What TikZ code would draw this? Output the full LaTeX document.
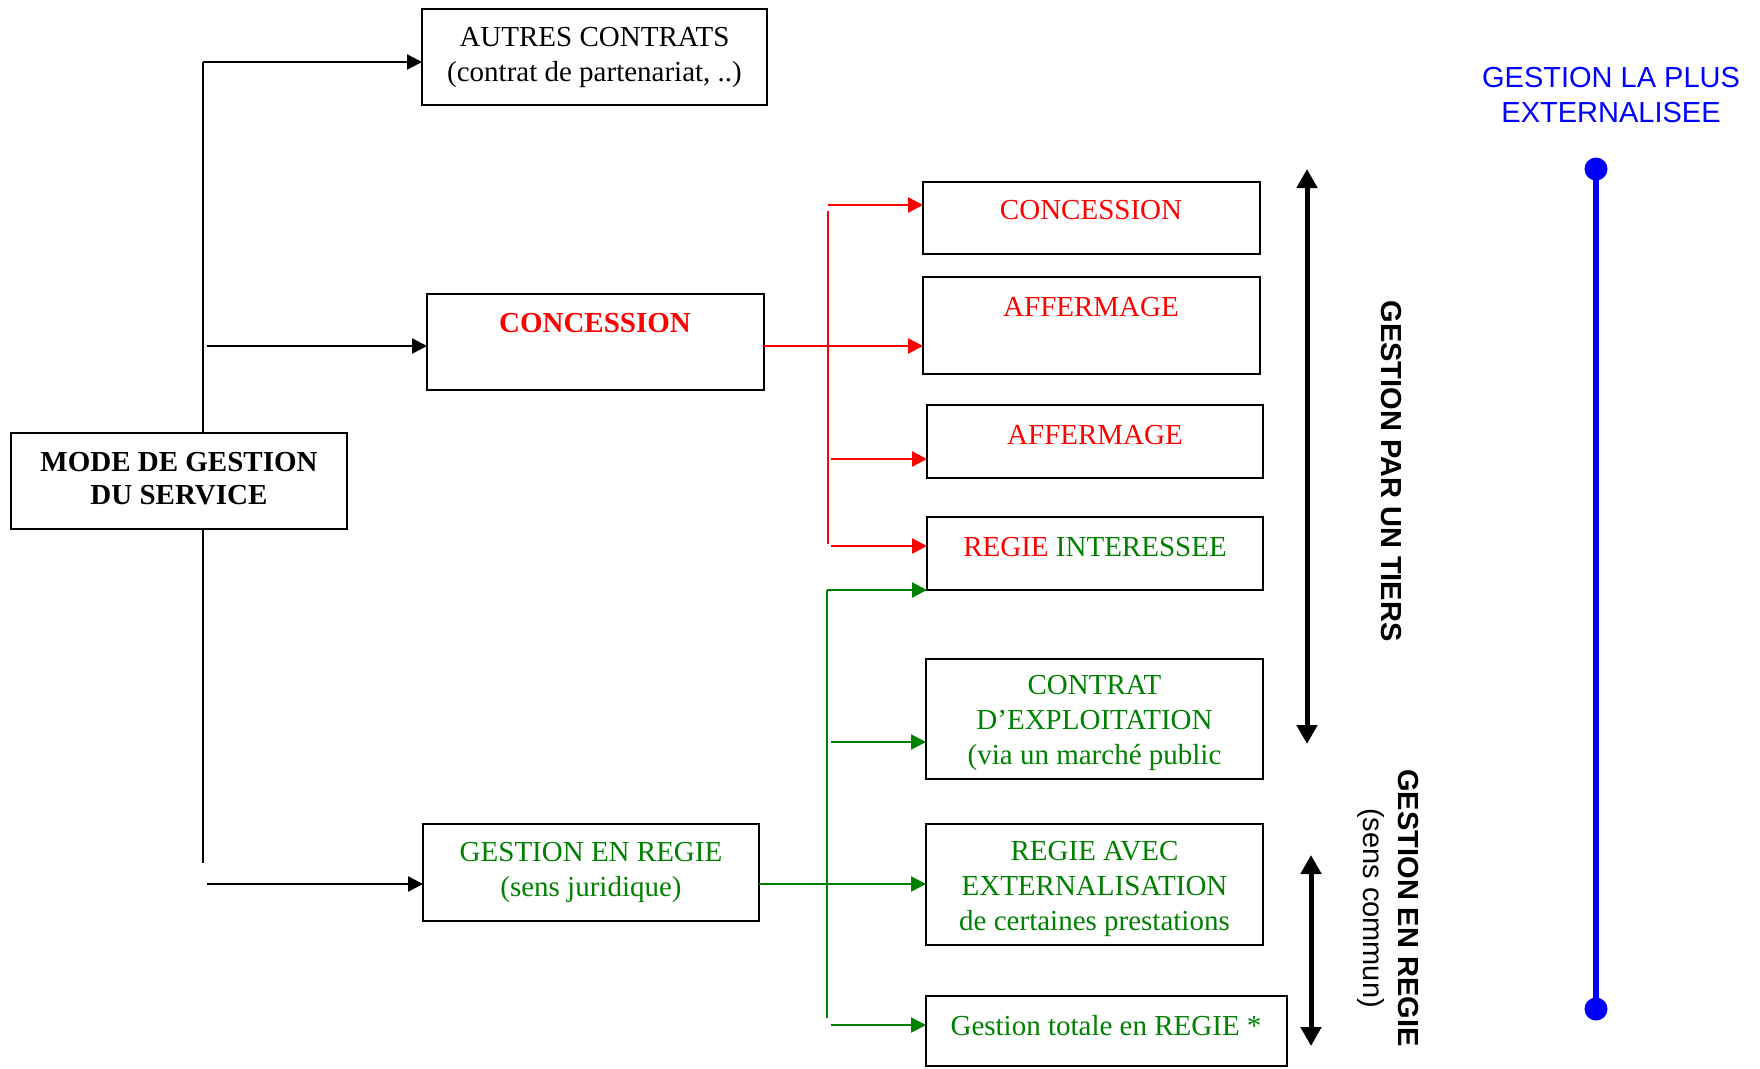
\documentclass[tikz,border=0pt]{standalone}
\usepackage{fontspec}
\setmainfont{Liberation Serif}
\setsansfont{Liberation Sans}
\usetikzlibrary{arrows.meta}
\definecolor{rd}{RGB}{255,0,0}
\definecolor{gn}{RGB}{0,128,0}
\definecolor{bl}{RGB}{0,0,255}
\newcommand{\fs}{\fontsize{29}{35}\selectfont}
\begin{document}
\begin{tikzpicture}[x=1pt,y=-1pt,
  every node/.style={font=\fs},
  box/.style={draw,line width=2pt,inner sep=0pt,outer sep=0pt,anchor=north west},
  txt/.style={anchor=base,inner sep=0pt},
  mtxt/.style={align=center,inner sep=0pt},
  tip/.style={-{Triangle[length=15pt,width=15pt]}},
  blkarr/.style={tip,line width=2.5pt,black},
  trunk/.style={line width=1.5pt,black},
  rarr/.style={tip,line width=2.5pt,rd},
  rline/.style={line width=1.5pt,rd},
  garr/.style={tip,line width=2.2pt,gn},
  gline/.style={line width=1.5pt,gn},
  dbl/.style={{Triangle[length=19pt,width=20pt]}-{Triangle[length=19pt,width=20pt]},line width=5pt,black},
  blue line/.style={line width=6pt,bl}]
\useasboundingbox[fill=white] (0,0) rectangle (1760,1068);

% left column
\node[box,minimum width=345,minimum height=96,align=center] (autres) at (422,9) {AUTRES CONTRATS\\(contrat de partenariat, ..)};
\node[box,minimum width=336,minimum height=96] (mode) at (11,433) {};
\node[mtxt,font=\fontsize{29}{33}\selectfont\bfseries] (modet) at ([yshift=2pt]mode.center) {MODE DE GESTION\\DU SERVICE};
\node[box,minimum width=337,minimum height=96] (concL) at (427,294) {};
\node[txt,text=rd,font=\fs\bfseries] (concLt) at (595,332) {CONCESSION};
\node[box,minimum width=336,minimum height=97,align=center,text=gn] (regieL) at (423,824) {GESTION EN REGIE\\(sens juridique)};

% right column
\node[box,minimum width=337,minimum height=72] (conc2) at (923,182) {};
\node[txt,text=rd] (conc2t) at (1091,219) {CONCESSION};
\node[box,minimum width=337,minimum height=97] (aff1) at (923,277) {};
\node[txt,text=rd] (aff1t) at (1091,316) {AFFERMAGE};
\node[box,minimum width=336,minimum height=73] (aff2) at (927,405) {};
\node[txt,text=rd] (aff2t) at (1095,444) {AFFERMAGE};
\node[box,minimum width=336,minimum height=73] (regint) at (927,517) {};
\node[txt] (regintt) at (1095,556) {\textcolor{rd}{REGIE} \textcolor{gn}{INTERESSEE}};
\node[box,minimum width=337,minimum height=120] (contrat) at (926,659) {};
\node[mtxt,text=gn] (contratt) at ([yshift=-4pt]contrat.center) {CONTRAT\\D’EXPLOITATION\\(via un marché public};
\node[box,minimum width=337,minimum height=121] (regavec) at (926,824) {};
\node[mtxt,text=gn] (regavect) at ([yshift=-4pt]regavec.center) {REGIE AVEC\\EXTERNALISATION\\de certaines prestations};
\node[box,minimum width=361,minimum height=70] (totale) at (926,996) {};
\node[txt,text=gn] (totalet) at (1106,1035) {Gestion totale en REGIE *};

% black connectors
\coordinate (tk) at (203,62);
\coordinate (tk2) at (207,346);
\coordinate (tk3) at (203,863);
\coordinate (tk4) at (207,884);
\draw[trunk] (mode.north -| tk) -- (tk);
\draw[blkarr] (tk) -- (autres.west |- tk);
\draw[blkarr] (tk2) -- (concL.west |- tk2);
\draw[trunk] (mode.south -| tk3) -- (tk3);
\draw[blkarr] (tk4) -- (regieL.west |- tk4);

% red connectors
\coordinate (r0) at (828,205);
\coordinate (r1) at (828,211);
\coordinate (r2) at (828,544);
\coordinate (r3) at (831,459);
\coordinate (r4) at (831,546);
\draw[rline] (r1) -- (r2);
\draw[rarr] (concL.east |- tk2) -- (aff1.west |- tk2);
\draw[rarr] (r0) -- (conc2.west |- r0);
\draw[rarr] (r3) -- (aff2.west |- r3);
\draw[rarr] (r4) -- (regint.west |- r4);

% green connectors
\coordinate (g1) at (827,590);
\coordinate (g2) at (827,1018);
\coordinate (g3) at (831,742);
\coordinate (g4) at (831,1025);
\draw[gline] (g1) -- (g2);
\draw[garr] (g1) -- (regint.south west |- g1);
\draw[garr] (g3) -- (contrat.west |- g3);
\draw[garr] (regieL.east |- tk4) -- (regavec.west |- tk4);
\draw[garr] (g4) -- (totale.west |- g4);

% double arrows
\coordinate (d1a) at (1307,169);
\coordinate (d1b) at (1307,744);
\coordinate (d2a) at (1311,855);
\coordinate (d2b) at (1311,1046);
\draw[dbl] (d1a) -- (d1b);
\draw[dbl] (d2a) -- (d2b);

\node[font=\fs\sffamily\bfseries,rotate=-90] (tiers) at (1391,471) {GESTION PAR UN TIERS};
\node[font=\fs\sffamily,rotate=-90,align=center] (regie) at (1388,908) {{\bfseries GESTION EN REGIE}\\(sens commun)};

% blue scale
\coordinate (b1) at (1596,169);
\coordinate (b2) at (1596,1009);
\draw[blue line] (b1) -- (b2);
\fill[bl] (b1) circle (11.5);
\fill[bl] (b2) circle (11.5);
\node[font=\fs\sffamily,text=bl,align=center] (ext) at (1611,95) {GESTION LA PLUS\\EXTERNALISEE};
\end{tikzpicture}
\end{document}
